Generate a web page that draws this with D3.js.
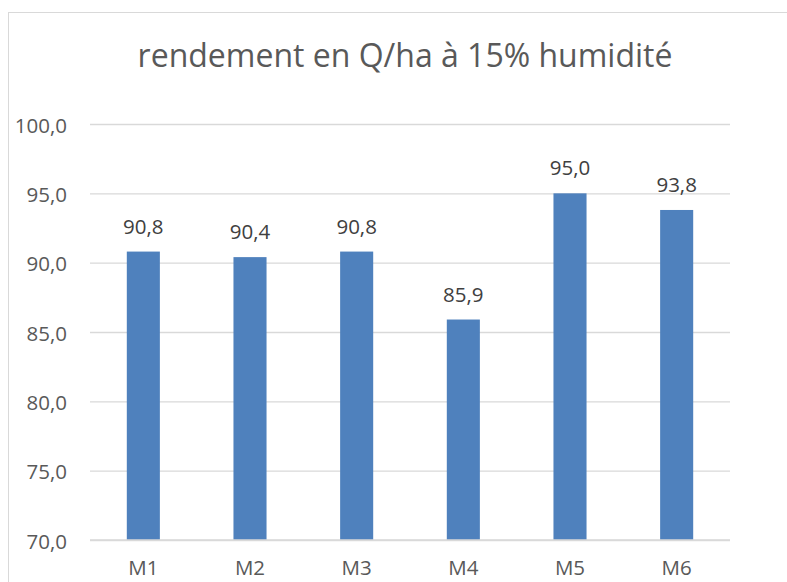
<!DOCTYPE html>
<html>
<head>
<meta charset="utf-8">
<script src="https://cdn.jsdelivr.net/npm/d3@7"></script>
<style>
  body { margin: 0; background: #fff; }
  svg { display: block; font-family: "Open Sans", sans-serif; }
</style>
</head>
<body>
<svg id="svg" width="787" height="582"></svg>
<script>
const categories = ['M1', 'M2', 'M3', 'M4', 'M5', 'M6'];
const rendement = [90.8, 90.4, 90.8, 85.9, 95.0, 93.8];
const yTicks = [70, 75, 80, 85, 90, 95, 100];
const title = 'rendement en Q/ha à 15% humidité';

const svg = d3.select('#svg');
const fmt = v => d3.format('.1f')(v).replace('.', ',');

// chart frame (runs off the right and bottom of the window)
svg.append('rect')
  .attr('x', 8.5).attr('y', 12.5)
  .attr('width', 900).attr('height', 700)
  .attr('fill', 'none')
  .attr('stroke', '#d9d9d9');

const plotLeft = 90, plotRight = 730, plotTop = 124, plotBottom = 540;

const x = d3.scaleBand()
  .domain(categories)
  .range([plotLeft, plotRight])
  .paddingInner(0.69)
  .paddingOuter(0.345);

const y = d3.scaleLinear()
  .domain([70, 100])
  .range([plotBottom, plotTop]);

// gridlines + y labels
const yAxis = d3.axisLeft(y)
  .tickValues(yTicks)
  .tickSize(-(plotRight - plotLeft))
  .tickPadding(23)
  .tickFormat(fmt);

const gy = svg.append('g')
  .attr('transform', `translate(${plotLeft},0)`)
  .call(yAxis);
gy.select('.domain').remove();
gy.selectAll('.tick line').attr('stroke', '#d9d9d9').attr('stroke-width', 1.3);
gy.selectAll('.tick text')
  .attr('fill', '#595959')
  .attr('dy', '0.4em')
  .style('font-size', '20.5px')
  .style('font-family', '"Open Sans", sans-serif');

// bars
svg.append('g').selectAll('rect')
  .data(rendement)
  .join('rect')
  .attr('x', (d, i) => x(categories[i]))
  .attr('width', x.bandwidth())
  .attr('y', d => y(d))
  .attr('height', d => y(70) - y(d))
  .attr('fill', '#4f81bd');

// redraw baseline over bars
svg.append('line')
  .attr('x1', plotLeft).attr('x2', plotRight)
  .attr('y1', y(70)).attr('y2', y(70))
  .attr('stroke', '#d9d9d9').attr('stroke-width', 1.5);

// value labels
svg.append('g').selectAll('text')
  .data(rendement)
  .join('text')
  .attr('x', (d, i) => x(categories[i]) + x.bandwidth() / 2)
  .attr('y', d => y(d) - 18)
  .attr('text-anchor', 'middle')
  .attr('fill', '#404040')
  .style('font-size', '20.5px')
  .text(fmt);

// x labels
const gx = svg.append('g')
  .attr('transform', `translate(0,${plotBottom})`)
  .call(d3.axisBottom(x).tickSize(0).tickPadding(20));
gx.select('.domain').remove();
gx.selectAll('.tick text')
  .attr('fill', '#595959')
  .style('font-size', '20.5px')
  .style('font-family', '"Open Sans", sans-serif');

// title
svg.append('text')
  .attr('x', 405).attr('y', 67)
  .attr('text-anchor', 'middle')
  .attr('fill', '#595959')
  .style('font-size', '32px')
  .text(title);
</script>
</body>
</html>
